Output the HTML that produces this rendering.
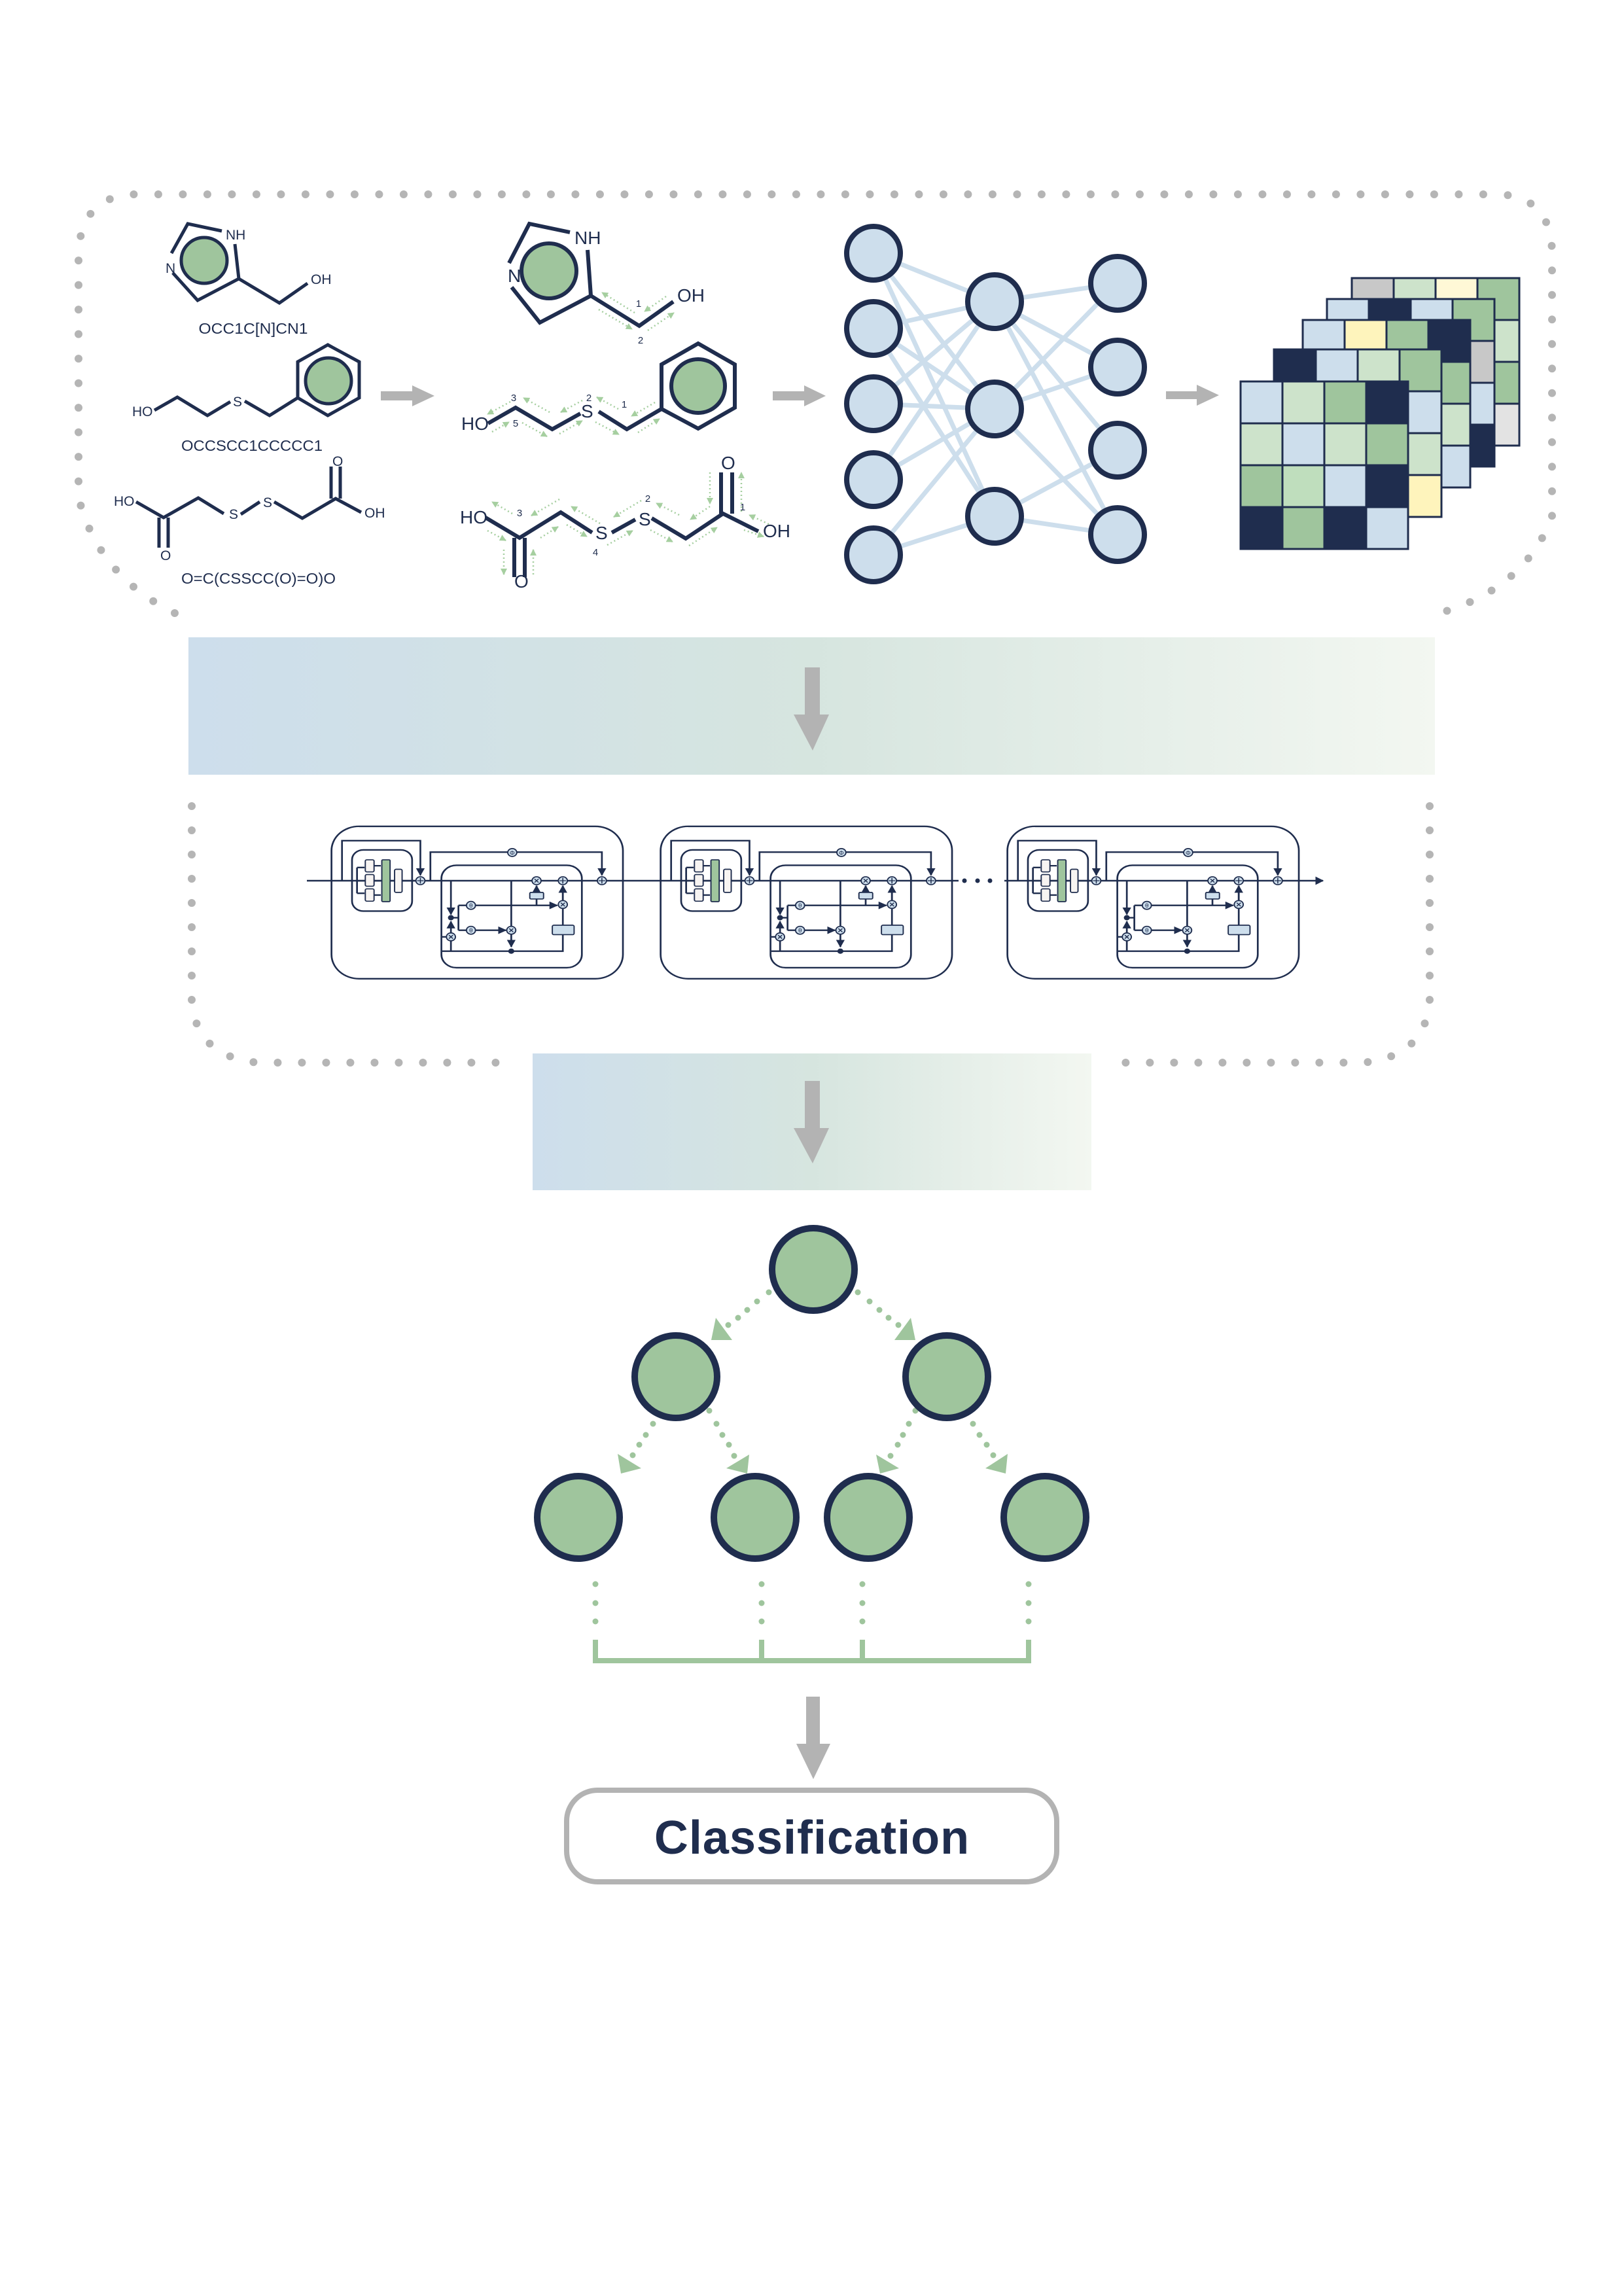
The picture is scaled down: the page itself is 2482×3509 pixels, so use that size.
<!DOCTYPE html>
<html><head><meta charset="utf-8">
<style>
html,body{margin:0;padding:0;background:#fff;}
svg{display:block;}
text{font-family:"Liberation Sans",sans-serif;fill:#1f2d4e;}
</style></head>
<body>
<svg width="2482" height="3509" viewBox="0 0 2482 3509" xmlns="http://www.w3.org/2000/svg">
<defs>
<linearGradient id="gb" x1="0" x2="1" y1="0" y2="0">
<stop offset="0" stop-color="#cddeec"/><stop offset="0.5" stop-color="#d6e5df"/><stop offset="1" stop-color="#f3f7f1"/>
</linearGradient>
<marker id="ah" viewBox="0 0 10 10" refX="9" refY="5" markerWidth="5" markerHeight="5" orient="auto"><path d="M0,0 L10,5 L0,10 z" fill="#1f2d4e"/></marker>
<marker id="ga" viewBox="0 0 10 10" refX="9" refY="5" markerWidth="4" markerHeight="4" orient="auto"><path d="M0,0 L10,5 L0,10 z" fill="#a6cfa0"/></marker>
<g id="blk" fill="none" stroke="#1f2d4e" stroke-width="7">
  <rect x="148" y="68" width="1164" height="692" rx="110"/>
  <path d="M190,315 V133 H503 V290" marker-end="url(#ah)"/>
  <rect x="230" y="175" width="240" height="278" rx="45"/>
  <path d="M250,255 V372 M250,255 H280 M250,315 H280 M250,372 H280" />
  <rect x="283" y="220" width="35" height="55" rx="6" fill="#f7f4f2" stroke-width="5"/>
  <rect x="283" y="287" width="35" height="53" rx="6" fill="#f7f4f2" stroke-width="5"/>
  <rect x="283" y="352" width="35" height="56" rx="6" fill="#f7f4f2" stroke-width="5"/>
  <rect x="349" y="220" width="33" height="190" rx="4" fill="#9fc59d" stroke-width="5"/>
  <rect x="400" y="263" width="30" height="105" rx="6" fill="#f7f4f2" stroke-width="5"/>
  <path d="M318,247 H345 M318,315 H345 M318,380 H345 M382,315 H400 M430,315 H482"/>
  <circle cx="503" cy="315" r="18" fill="#cddeec" stroke-width="5"/>
  <path d="M490,315 H516 M503,302 V328" stroke-width="4"/>
  <path d="M543,315 V185 H1228 V290" marker-end="url(#ah)"/>
  <circle cx="870" cy="187" r="18" fill="#cddeec" stroke-width="5"/>
  <text x="870" y="197" font-size="26" text-anchor="middle" stroke="none" style="fill:#1f2d4e">Φ</text>
  <rect x="587" y="245" width="561" height="465" rx="60"/>
  <path d="M625,315 V468" marker-end="url(#ah)"/>
  <circle cx="625" cy="483" r="12" fill="#1f2d4e" stroke="none"/>
  <path d="M625,483 H655 M655,427 V540 M655,427 H685 M655,540 H685"/>
  <circle cx="705" cy="427" r="18" fill="#cddeec" stroke-width="5"/>
  <circle cx="705" cy="540" r="18" fill="#cddeec" stroke-width="5"/>
  <text x="705" y="437" font-size="26" text-anchor="middle" stroke="none">θ</text>
  <text x="705" y="550" font-size="26" text-anchor="middle" stroke="none">θ</text>
  <path d="M723,427 H1050" marker-end="url(#ah)"/>
  <path d="M723,540 H845" marker-end="url(#ah)"/>
  <path d="M866,315 V522 M866,558 V615" marker-end="url(#ah)"/>
  <circle cx="866" cy="635" r="12" fill="#1f2d4e" stroke="none"/>
  <path d="M590,635 H1072 V560 M1072,517 V442 M1072,405 V340"/>
  <path d="M1072,405 V338" marker-end="url(#ah)"/>
  <rect x="1030" y="517" width="87" height="43" rx="6" fill="#cddeec" stroke-width="5"/>
  <path d="M967,427 V398 M967,368 V340" />
  <path d="M967,368 V338" marker-end="url(#ah)"/>
  <rect x="940" y="368" width="55" height="30" rx="5" fill="#cddeec" stroke-width="5"/>
  <path d="M625,635 V590 M625,552 V500" marker-end="url(#ah)"/>
  <path d="M590,570 H605"/>
  <circle cx="866" cy="540" r="18" fill="#cddeec" stroke-width="5"/>
  <circle cx="1072" cy="423" r="18" fill="#cddeec" stroke-width="5"/>
  <circle cx="625" cy="570" r="18" fill="#cddeec" stroke-width="5"/>
  <circle cx="967" cy="315" r="18" fill="#cddeec" stroke-width="5"/>
  <circle cx="1072" cy="315" r="18" fill="#cddeec" stroke-width="5"/>
  <circle cx="1228" cy="315" r="18" fill="#cddeec" stroke-width="5"/>
  <path d="M858,532 L874,548 M874,532 L858,548 M1064,415 L1080,431 M1080,415 L1064,431 M617,562 L633,578 M633,562 L617,578 M959,307 L975,323 M975,307 L959,323" stroke-width="4"/>
  <path d="M1059,315 H1085 M1072,302 V328 M1215,315 H1241 M1228,302 V328" stroke-width="4"/>
</g>
</defs>

<!-- top dotted frame -->
<path d="M267,937 Q150,880 120,760 V385 Q125,300 205,297 H2290 Q2370,300 2372,385 V790 Q2330,900 2200,937" fill="none" stroke="#b5b5b5" stroke-width="12" stroke-linecap="round" stroke-dasharray="0 37.5"/>

<!-- Molecule 1 left -->
<g stroke="#1f2d4e" stroke-width="5" fill="none" stroke-linecap="butt">
<polyline points="339,353 287,342 262,387"/>
<polyline points="264,417 302,459 365,426 359,373"/>
<polyline points="365,426 427,463 470,433"/>
<circle cx="312" cy="398" r="35" fill="#9fc59d"/>
<!-- mol2 -->
<polyline points="236,627 271,607 317,635 352,614"/>
<polyline points="374,613 412,635 455,608"/>
<polygon points="501,527 549,553 549,608 501,635 455,608 455,553"/>
<circle cx="502" cy="582" r="35" fill="#9fc59d"/>
<!-- mol3 -->
<polyline points="208,767 250,791 303,761 342,785"/>
<line x1="368" y1="786" x2="397" y2="767"/>
<polyline points="419,767 462,792 513,762 552,783"/>
<line x1="243" y1="791" x2="243" y2="837"/><line x1="257" y1="791" x2="257" y2="837"/>
<line x1="506" y1="713" x2="506" y2="762"/><line x1="520" y1="713" x2="520" y2="762"/>
</g>
<g font-size="21">
<text x="345" y="366">NH</text><text x="253" y="417">N</text><text x="475" y="434">OH</text>
<text x="202" y="636">HO</text><text x="356" y="621">S</text>
<text x="174" y="773">HO</text><text x="350" y="793">S</text><text x="402" y="775">S</text><text x="557" y="791">OH</text>
<text x="245" y="856">O</text><text x="508" y="712">O</text>
</g>
<g font-size="23" text-anchor="middle">
<text x="387" y="510" textLength="167" lengthAdjust="spacingAndGlyphs">OCC1C[N]CN1</text>
<text x="385" y="689" textLength="216" lengthAdjust="spacingAndGlyphs">OCCSCC1CCCCC1</text>
<text x="395" y="892" textLength="236" lengthAdjust="spacingAndGlyphs">O=C(CSSCC(O)=O)O</text>
</g>

<!-- gray arrows -->
<g fill="#b3b3b3">
<path d="M582,598 H630 V589 L664,605 L630,621 V612 H582 z"/>
<path d="M1181,598 H1229 V589 L1262,605 L1229,621 V612 H1181 z"/>
<path d="M1782,598 H1829 V588 L1863,604 L1829,620 V610 H1782 z"/>
</g>

<!-- Molecules middle -->
<g stroke="#1f2d4e" stroke-width="6" fill="none">
<polyline points="871,355 809,342 778,402"/>
<polyline points="782,439 825,493 903,452 898,382"/>
<polyline points="903,452 977,498 1029,461"/>
<circle cx="839" cy="414" r="42" fill="#9fc59d"/>
<polyline points="746,647 788,623 844,656 887,632"/>
<polyline points="915,629 958,656 1011,625"/>
<polygon points="1067,525 1123,557 1123,623 1067,655 1011,625 1011,557"/>
<circle cx="1067" cy="590" r="41" fill="#9fc59d"/>
<polyline points="742,791 794,822 857,783 905,814"/>
<line x1="935" y1="814" x2="971" y2="794"/>
<polyline points="996,792 1048,823 1105,785 1159,812"/>
<line x1="786" y1="822" x2="786" y2="882"/><line x1="802" y1="822" x2="802" y2="882"/>
<line x1="1102" y1="722" x2="1102" y2="785"/><line x1="1119" y1="722" x2="1119" y2="785"/>
</g>
<g font-size="28">
<text x="878" y="373">NH</text><text x="776" y="431">N</text><text x="1035" y="461">OH</text>
<text x="705" y="657">HO</text><text x="888" y="638">S</text>
<text x="703" y="800">HO</text><text x="910" y="824">S</text><text x="976" y="803">S</text><text x="1166" y="821">OH</text>
<text x="786" y="898">O</text><text x="1102" y="717">O</text>
</g>
<g font-size="15" text-anchor="middle">
<text x="976" y="469">1</text><text x="979" y="525">2</text>
<text x="785" y="613">3</text><text x="788" y="652">5</text><text x="900" y="613">2</text><text x="954" y="623">1</text>
<text x="794" y="789">3</text><text x="910" y="849">4</text><text x="990" y="767">2</text><text x="1135" y="780">1</text>
</g>
<g stroke="#a6cfa0" stroke-width="2.5" stroke-dasharray="2 4" fill="none" marker-end="url(#ga)">
<line x1="970" y1="478" x2="920" y2="447"/><line x1="915" y1="473" x2="966" y2="503"/>
<line x1="1018" y1="453" x2="985" y2="476"/><line x1="990" y1="505" x2="1030" y2="478"/>
<line x1="780" y1="614" x2="745" y2="633"/><line x1="752" y1="660" x2="778" y2="645"/>
<line x1="840" y1="630" x2="800" y2="608"/><line x1="798" y1="646" x2="836" y2="667"/>
<line x1="890" y1="612" x2="857" y2="630"/><line x1="855" y1="663" x2="890" y2="643"/>
<line x1="945" y1="625" x2="912" y2="607"/><line x1="910" y1="645" x2="946" y2="664"/>
<line x1="1001" y1="615" x2="965" y2="636"/><line x1="975" y1="661" x2="1008" y2="640"/>
<line x1="783" y1="785" x2="752" y2="767"/><line x1="745" y1="811" x2="773" y2="826"/>
<line x1="855" y1="763" x2="812" y2="788"/><line x1="826" y1="822" x2="853" y2="805"/>
<line x1="917" y1="800" x2="873" y2="774"/><line x1="866" y1="802" x2="897" y2="820"/>
<line x1="980" y1="765" x2="938" y2="790"/><line x1="928" y1="833" x2="967" y2="811"/>
<line x1="1038" y1="787" x2="1003" y2="769"/><line x1="994" y1="810" x2="1028" y2="828"/>
<line x1="1085" y1="774" x2="1055" y2="794"/><line x1="1053" y1="834" x2="1096" y2="806"/>
<line x1="1175" y1="801" x2="1145" y2="787"/><line x1="1137" y1="810" x2="1167" y2="820"/>
<line x1="1085" y1="722" x2="1085" y2="770"/><line x1="1133" y1="782" x2="1133" y2="722"/>
<line x1="770" y1="840" x2="770" y2="878"/><line x1="815" y1="878" x2="815" y2="840"/>
</g>

<!-- Neural net -->
<g stroke="#cddeec" stroke-width="7">
<g id="e1">
<line x1="1335" y1="387" x2="1520" y2="461"/><line x1="1335" y1="387" x2="1520" y2="625"/><line x1="1335" y1="387" x2="1520" y2="789"/>
<line x1="1335" y1="502" x2="1520" y2="461"/><line x1="1335" y1="502" x2="1520" y2="625"/><line x1="1335" y1="502" x2="1520" y2="789"/>
<line x1="1335" y1="617" x2="1520" y2="461"/><line x1="1335" y1="617" x2="1520" y2="625"/>
<line x1="1335" y1="733" x2="1520" y2="461"/><line x1="1335" y1="733" x2="1520" y2="625"/>
<line x1="1335" y1="848" x2="1520" y2="625"/><line x1="1335" y1="848" x2="1520" y2="789"/>
</g>
<line x1="1520" y1="461" x2="1708" y2="433"/><line x1="1520" y1="461" x2="1708" y2="561"/><line x1="1520" y1="461" x2="1708" y2="688"/><line x1="1520" y1="461" x2="1708" y2="817"/>
<line x1="1520" y1="625" x2="1708" y2="433"/><line x1="1520" y1="625" x2="1708" y2="561"/><line x1="1520" y1="625" x2="1708" y2="817"/>
<line x1="1520" y1="789" x2="1708" y2="688"/><line x1="1520" y1="789" x2="1708" y2="817"/>
</g>
<g fill="#cddeec" stroke="#1f2d4e" stroke-width="8">
<circle cx="1335" cy="387" r="41"/><circle cx="1335" cy="502" r="41"/><circle cx="1335" cy="617" r="41"/><circle cx="1335" cy="733" r="41"/><circle cx="1335" cy="848" r="41"/>
<circle cx="1520" cy="461" r="41"/><circle cx="1520" cy="625" r="41"/><circle cx="1520" cy="789" r="41"/>
<circle cx="1708" cy="433" r="41"/><circle cx="1708" cy="561" r="41"/><circle cx="1708" cy="688" r="41"/><circle cx="1708" cy="817" r="41"/>
</g>

<!-- Matrices -->
<g stroke="#1f2d4e" stroke-width="3">
<g transform="translate(2066,425)">
<rect x="0" y="0" width="64" height="64" fill="#c8c8c8"/><rect x="64" y="0" width="64" height="64" fill="#cde3cb"/><rect x="128" y="0" width="64" height="64" fill="#fff8d6"/><rect x="192" y="0" width="64" height="64" fill="#9fc59d"/>
<rect x="192" y="64" width="64" height="64" fill="#cde3cb"/><rect x="192" y="128" width="64" height="64" fill="#9fc59d"/><rect x="192" y="192" width="64" height="64" fill="#e3e3e3"/>
</g>
<g transform="translate(2028,457)">
<rect x="0" y="0" width="64" height="64" fill="#cddeec"/><rect x="64" y="0" width="64" height="64" fill="#1f2d4e"/><rect x="128" y="0" width="64" height="64" fill="#cddeec"/><rect x="192" y="0" width="64" height="64" fill="#9fc59d"/>
<rect x="192" y="64" width="64" height="64" fill="#c8c8c8"/><rect x="192" y="128" width="64" height="64" fill="#cddeec"/><rect x="192" y="192" width="64" height="64" fill="#1f2d4e"/>
</g>
<g transform="translate(1991,489)">
<rect x="0" y="0" width="64" height="64" fill="#cddeec"/><rect x="64" y="0" width="64" height="64" fill="#fef4bc"/><rect x="128" y="0" width="64" height="64" fill="#9fc59d"/><rect x="192" y="0" width="64" height="64" fill="#1f2d4e"/>
<rect x="192" y="64" width="64" height="64" fill="#9fc59d"/><rect x="192" y="128" width="64" height="64" fill="#cde3cb"/><rect x="192" y="192" width="64" height="64" fill="#cddeec"/>
</g>
<g transform="translate(1947,534)">
<rect x="0" y="0" width="64" height="64" fill="#1f2d4e"/><rect x="64" y="0" width="64" height="64" fill="#cddeec"/><rect x="128" y="0" width="64" height="64" fill="#cde3cb"/><rect x="192" y="0" width="64" height="64" fill="#9fc59d"/>
<rect x="192" y="64" width="64" height="64" fill="#cddeec"/><rect x="192" y="128" width="64" height="64" fill="#cde3cb"/><rect x="192" y="192" width="64" height="64" fill="#fef4bc"/>
</g>
<g transform="translate(1896,583)">
<rect x="0" y="0" width="64" height="64" fill="#cddeec"/><rect x="64" y="0" width="64" height="64" fill="#cde3cb"/><rect x="128" y="0" width="64" height="64" fill="#9fc59d"/><rect x="192" y="0" width="64" height="64" fill="#1f2d4e"/>
<rect x="0" y="64" width="64" height="64" fill="#cde3cb"/><rect x="64" y="64" width="64" height="64" fill="#cddeec"/><rect x="128" y="64" width="64" height="64" fill="#cde3cb"/><rect x="192" y="64" width="64" height="64" fill="#9fc59d"/>
<rect x="0" y="128" width="64" height="64" fill="#9fc59d"/><rect x="64" y="128" width="64" height="64" fill="#bfdebd"/><rect x="128" y="128" width="64" height="64" fill="#cddeec"/><rect x="192" y="128" width="64" height="64" fill="#1f2d4e"/>
<rect x="0" y="192" width="64" height="64" fill="#1f2d4e"/><rect x="64" y="192" width="64" height="64" fill="#9fc59d"/><rect x="128" y="192" width="64" height="64" fill="#1f2d4e"/><rect x="192" y="192" width="64" height="64" fill="#cddeec"/>
</g>
</g>

<!-- gradient bar 1 -->
<rect x="288" y="974" width="1905" height="210" fill="url(#gb)"/>
<path d="M1230,1020 H1253 V1092 H1267 L1242,1147 L1213,1092 H1230 z" fill="#b3b3b3"/>

<!-- second dotted frame -->
<path d="M293,1232 V1530 Q300,1615 394,1624 H770" fill="none" stroke="#b5b5b5" stroke-width="12" stroke-linecap="round" stroke-dasharray="0 37"/>
<path d="M2185,1232 V1530 Q2178,1615 2083,1624 H1705" fill="none" stroke="#b5b5b5" stroke-width="12" stroke-linecap="round" stroke-dasharray="0 37"/>

<!-- LSTM chain -->
<line x1="469" y1="1346" x2="2022" y2="1346" stroke="#1f2d4e" stroke-width="2.6" marker-end="url(#ah)"/>
<svg x="450" y="1240" width="600" height="280" viewBox="0 0 1568 832" preserveAspectRatio="none" overflow="visible"><use href="#blk"/></svg>
<svg x="953" y="1240" width="600" height="280" viewBox="0 0 1568 832" preserveAspectRatio="none" overflow="visible"><use href="#blk"/></svg>
<svg x="1483" y="1240" width="600" height="280" viewBox="0 0 1568 832" preserveAspectRatio="none" overflow="visible"><use href="#blk"/></svg>
<rect x="1465" y="1336" width="70" height="20" fill="#fff"/>
<g fill="#1f2d4e"><circle cx="1474" cy="1346" r="3.5"/><circle cx="1494" cy="1346" r="3.5"/><circle cx="1513" cy="1346" r="3.5"/></g>

<!-- gradient bar 2 -->
<rect x="814" y="1610" width="854" height="209" fill="url(#gb)"/>
<path d="M1230,1652 H1253 V1724 H1267 L1242,1778 L1213,1724 H1230 z" fill="#b3b3b3"/>

<!-- Tree -->
<g fill="#9fc59d">
<circle cx="1175" cy="1975" r="4.5"/><circle cx="1157" cy="1989" r="4.5"/><circle cx="1142" cy="2002" r="4.5"/><circle cx="1128" cy="2014" r="4.5"/><circle cx="1113" cy="2025" r="4.5"/>
<polygon points="1087,2048 1094,2014 1119,2048"/>
<circle cx="1311" cy="1975" r="4.5"/><circle cx="1329" cy="1989" r="4.5"/><circle cx="1344" cy="2002" r="4.5"/><circle cx="1358" cy="2014" r="4.5"/><circle cx="1373" cy="2025" r="4.5"/>
<polygon points="1399,2048 1392,2014 1367,2048"/>
<circle cx="998" cy="2176" r="4.5"/><circle cx="987" cy="2193" r="4.5"/><circle cx="977" cy="2208" r="4.5"/><circle cx="967" cy="2224" r="4.5"/>
<polygon points="944,2222 949,2252 980,2244"/>
<circle cx="1084" cy="2156" r="4.5"/><circle cx="1095" cy="2176" r="4.5"/><circle cx="1104" cy="2193" r="4.5"/><circle cx="1114" cy="2208" r="4.5"/><circle cx="1122" cy="2225" r="4.5"/>
<polygon points="1110,2244 1145,2223 1142,2252"/>
<circle cx="1399" cy="2156" r="4.5"/><circle cx="1389" cy="2176" r="4.5"/><circle cx="1380" cy="2193" r="4.5"/><circle cx="1372" cy="2208" r="4.5"/><circle cx="1361" cy="2225" r="4.5"/>
<polygon points="1339,2223 1345,2252 1374,2244"/>
<circle cx="1487" cy="2176" r="4.5"/><circle cx="1497" cy="2193" r="4.5"/><circle cx="1508" cy="2208" r="4.5"/><circle cx="1518" cy="2224" r="4.5"/>
<polygon points="1506,2244 1540,2222 1537,2252"/>
</g>
<g fill="#9fc59d" stroke="#1f2d4e" stroke-width="10">
<circle cx="1243" cy="1940" r="63"/>
<circle cx="1033" cy="2104" r="63"/><circle cx="1447" cy="2104" r="63"/>
<circle cx="884" cy="2319" r="63"/><circle cx="1154" cy="2319" r="63"/><circle cx="1327" cy="2319" r="63"/><circle cx="1597" cy="2319" r="63"/>
</g>
<g fill="#9fc59d">
<circle cx="910" cy="2421" r="4.5"/><circle cx="910" cy="2450" r="4.5"/><circle cx="910" cy="2478" r="4.5"/>
<circle cx="1164" cy="2421" r="4.5"/><circle cx="1164" cy="2450" r="4.5"/><circle cx="1164" cy="2478" r="4.5"/>
<circle cx="1318" cy="2421" r="4.5"/><circle cx="1318" cy="2450" r="4.5"/><circle cx="1318" cy="2478" r="4.5"/>
<circle cx="1572" cy="2421" r="4.5"/><circle cx="1572" cy="2450" r="4.5"/><circle cx="1572" cy="2478" r="4.5"/>
</g>
<path d="M910,2506 V2538 H1572 V2506 M1164,2506 V2538 M1318,2506 V2538" fill="none" stroke="#9fc59d" stroke-width="8"/>
<path d="M1232,2593 H1253 V2665 H1269 L1243,2719 L1217,2665 H1232 z" fill="#b3b3b3"/>

<!-- Classification -->
<rect x="866" y="2736" width="749" height="140" rx="47" fill="#fff" stroke="#b3b3b3" stroke-width="8"/>
<text x="1241" y="2833" font-size="72" font-weight="bold" text-anchor="middle" letter-spacing="1">Classification</text>
</svg>
</body></html>
